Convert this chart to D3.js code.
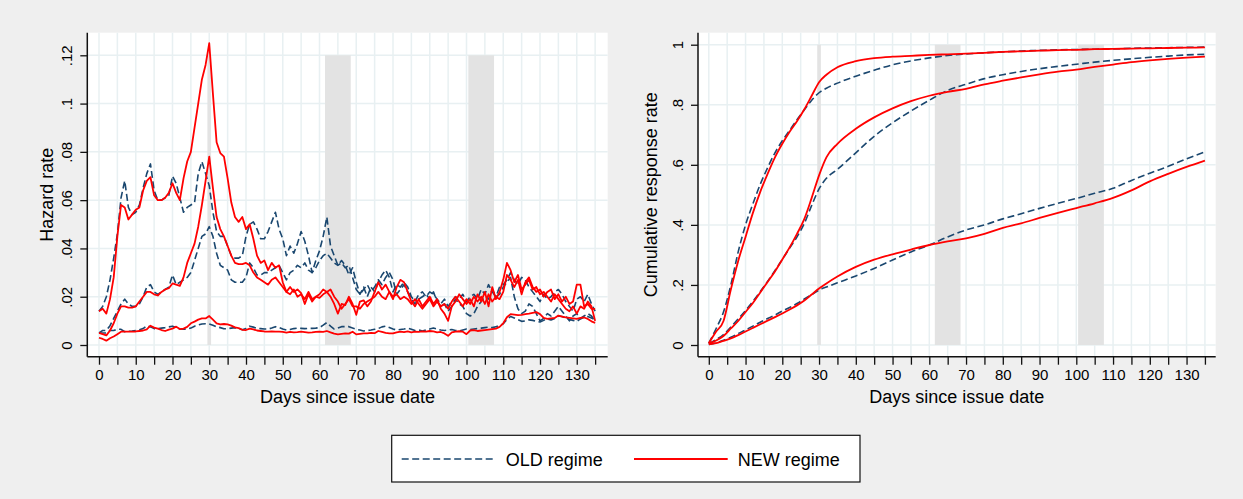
<!DOCTYPE html>
<html>
<head>
<meta charset="utf-8">
<script src="https://cdn.jsdelivr.net/npm/d3@7"></script>
<style>
body { margin: 0; background: #efefef; }
svg { display: block; font-family: "Liberation Sans", Arial, sans-serif; }
</style>
</head>
<body>
<div id="chart"></div>
<script>
var days = [0,1,2,3,4,5,6,7,8,9,10,11,12,13,14,15,16,17,18,19,20,21,22,23,24,25,26,27,28,29,
    30,31,32,33,34,35,36,37,38,39,40,41,42,43,44,45,46,47,48,49,50,51,52,53,54,55,56,57,58,59,
    60,61,62,63,64,65,66,67,68,69,70,71,72,73,74,75,76,77,78,79,80,81,82,83,84,85,86,87,88,89,
    90,91,92,93,94,95,96,97,98,99,100,101,102,103,104,105,106,107,108,109,110,111,112,113,114,
    115,116,117,118,119,120,121,122,123,124,125,126,127,128,129,130,131,132,133,134,135];

// hazard rates, OLD regime (dashed)
var hazOldHigh = [.014,.016,.020,.027,.036,.046,.061,.068,.057,.054,
    .055,.058,.065,.071,.075,.064,.060,.060,.061,.062,
    .070,.067,.061,.055,.057,.058,.059,.071,.076,.071,
    .066,.055,.047,.045,.045,.041,.037,.036,.036,.037,
    .045,.050,.051,.048,.044,.044,.047,.051,.055,.048,
    .044,.037,.041,.038,.042,.047,.043,.037,.030,.035,
    .039,.045,.053,.041,.037,.033,.035,.033,.029,.032,
    .026,.021,.024,.020,.024,.022,.026,.029,.031,.028,
    .022,.025,.024,.026,.024,.020,.018,.021,.022,.020,
    .022,.021,.019,.017,.019,.016,.018,.020,.019,.021,
    .018,.020,.021,.019,.023,.021,.025,.022,.020,.024,
    .025,.027,.030,.027,.025,.028,.027,.024,.022,.020,
    .018,.021,.019,.020,.022,.023,.021,.018,.016,.014,
    .019,.020,.018,.021,.017,.014];
var hazOldMid = [.005,.006,.006,.008,.011,.014,.017,.019,.017,.016,
    .016,.017,.020,.024,.025,.022,.021,.022,.023,.024,
    .029,.025,.026,.027,.028,.030,.035,.040,.045,.046,
    .049,.045,.038,.033,.032,.031,.027,.026,.026,.026,
    .028,.034,.032,.029,.029,.030,.030,.031,.032,.033,
    .030,.027,.030,.031,.033,.032,.034,.031,.030,.032,
    .035,.037,.038,.036,.034,.033,.034,.032,.033,.028,
    .023,.021,.023,.025,.022,.024,.027,.025,.028,.030,
    .027,.021,.023,.025,.022,.019,.017,.019,.020,.021,
    .019,.022,.018,.016,.017,.014,.016,.019,.017,.016,
    .013,.012,.013,.016,.018,.020,.019,.023,.020,.021,
    .024,.026,.028,.020,.015,.013,.014,.017,.016,.013,
    .010,.011,.013,.012,.014,.016,.014,.012,.010,.012,
    .013,.011,.012,.013,.012,.010];
var hazOldLow = [.005,.005,.005,.006,.006,.0065,.0065,.0055,.0057,.0058,
    .006,.0063,.0068,.008,.0075,.0068,.0068,.007,.0072,.0075,
    .0078,.0072,.0066,.0065,.0066,.007,.0078,.0083,.0087,.0088,
    .0087,.0082,.0075,.0072,.0067,.0068,.007,.0072,.0068,.0063,
    .0068,.0078,.0074,.0069,.0068,.0066,.0066,.007,.0076,.0072,
    .0066,.0062,.0064,.0068,.007,.0069,.0068,.0069,.0069,.007,
    .0072,.0082,.0093,.0078,.0066,.007,.0076,.0076,.0076,.007,
    .0065,.0062,.0058,.006,.0062,.0065,.0068,.0075,.0078,.0072,
    .0066,.0062,.0064,.0066,.007,.0065,.006,.0062,.0058,.0062,
    .0066,.007,.0066,.0062,.006,.0062,.0064,.006,.0058,.0062,
    .0066,.0064,.0066,.0068,.007,.0072,.0074,.0072,.0076,.008,
    .0088,.0105,.0118,.0112,.0105,.0098,.01,.0104,.0102,.0098,
    .0095,.0102,.0108,.0104,.011,.012,.0118,.0112,.0106,.0102,
    .0098,.0108,.0115,.0118,.0112,.0104];

// hazard rates, NEW regime (solid)
var hazNewHigh = [.014,.015,.013,.019,.028,.045,.058,.057,.052,.054,
    .056,.057,.064,.068,.0695,.062,.060,.060,.061,.063,
    .067,.063,.060,.069,.076,.080,.090,.100,.110,.116,
    .125,.104,.084,.0795,.078,.069,.059,.053,.051,.053,
    .048,.050,.044,.037,.034,.035,.031,.034,.032,.033,
    .026,.022,.024,.022,.023,.0215,.017,.021,.018,.020,
    .0195,.021,.022,.020,.017,.013,.017,.0165,.020,.017,
    .0125,.018,.0185,.016,.018,.022,.026,.023,.025,.022,
    .019,.024,.027,.026,.022,.018,.016,.019,.016,.018,
    .020,.017,.019,.015,.013,.010,.016,.018,.021,.019,
    .017,.019,.016,.021,.018,.022,.016,.024,.019,.022,
    .027,.034,.031,.026,.029,.023,.025,.027,.023,.024,
    .021,.022,.020,.018,.021,.019,.017,.015,.014,.016,
    .013,.016,.015,.018,.016,.010];
var hazNewMid = [.005,.0045,.004,.006,.009,.013,.016,.016,.0155,.0155,
    .016,.018,.020,.022,.022,.021,.0205,.022,.023,.0235,
    .0255,.025,.0245,.028,.034,.038,.042,.049,.058,.068,
    .078,.065,.053,.048,.045,.041,.037,.034,.0335,.0335,
    .034,.033,.030,.028,.027,.026,.025,.027,.028,.026,
    .024,.022,.021,.023,.020,.021,.019,.022,.019,.020,
    .021,.023,.022,.023,.020,.018,.015,.017,.019,.016,
    .016,.015,.017,.018,.019,.020,.022,.020,.019,.022,
    .020,.021,.019,.020,.019,.017,.019,.017,.015,.017,
    .019,.016,.018,.016,.017,.015,.018,.020,.018,.016,
    .019,.017,.020,.018,.020,.017,.021,.018,.020,.019,
    .022,.029,.027,.024,.027,.021,.026,.028,.024,.022,
    .023,.020,.022,.023,.019,.021,.018,.020,.017,.018,
    .025,.025,.016,.017,.015,.015];
var hazNewLow = [.003,.0025,.0018,.0028,.0035,.0045,.0055,.0055,.0055,.0055,
    .0056,.0058,.006,.0065,.008,.0072,.0068,.0062,.0058,.0064,
    .0068,.0076,.0066,.0068,.0075,.009,.0097,.0105,.011,.011,
    .012,.0105,.009,.0085,.0087,.0085,.008,.0073,.007,.0063,
    .0062,.0068,.0065,.006,.0058,.0056,.0055,.0056,.0055,.0055,
    .0054,.0051,.0054,.0052,.0053,.0055,.0053,.0051,.0052,.0054,
    .0055,.0054,.0058,.0052,.0047,.0044,.0046,.0048,.0047,.0055,
    .0044,.0046,.0048,.0048,.005,.0049,.0058,.0054,.005,.0048,
    .0048,.0052,.0055,.0053,.0056,.0052,.0055,.0054,.0056,.0055,
    .0058,.0056,.0052,.0054,.0048,.0038,.0052,.0055,.0057,.0055,
    .0045,.006,.0062,.0058,.006,.0062,.0064,.0066,.0068,.0075,
    .009,.0115,.0128,.0126,.0124,.0125,.0128,.013,.0133,.0136,
    .0128,.0112,.0108,.011,.0112,.0122,.0118,.0114,.0112,.011,
    .0108,.0112,.0114,.0108,.0098,.0092];

// cumulative response rates
var cumDays = [0,2,4,6,8,10,12,14,16,18,20,22,24,26,28,30,32,35,40,45,50,55,60,65,70,
    75,80,85,90,95,100,105,110,115,120,125,130,135];
var cumOldHigh = [.006,.055,.11,.2,.31,.40,.47,.535,.59,.64,.68,.715,.75,.783,.815,.84,.855,.872,
    .895,.915,.933,.946,.956,.964,.969,.973,.976,.979,.981,.983,.984,.985,.986,.988,.989,.99,.991,.992];
var cumOldMid = [.005,.018,.035,.06,.087,.115,.145,.178,.212,.248,.285,.323,.36,.405,.465,.52,.555,.585,
    .64,.695,.74,.779,.815,.848,.868,.887,.9,.911,.92,.928,.935,.942,.948,.953,.958,.962,.966,.968];
var cumOldLow = [.002,.007,.016,.026,.038,.05,.063,.076,.088,.1,.113,.125,.138,.153,.168,.183,.193,.207,
    .23,.255,.283,.31,.333,.36,.383,.4,.42,.437,.455,.472,.488,.505,.522,.548,.572,.595,.62,.643];
var cumNewHigh = [.006,.045,.08,.185,.28,.36,.44,.51,.57,.625,.67,.71,.745,.785,.83,.875,.9,.925,
    .945,.955,.96,.963,.966,.968,.97,.973,.976,.978,.98,.982,.983,.985,.986,.987,.988,.989,.99,.991];
var cumNewMid = [.005,.015,.03,.055,.08,.11,.14,.175,.21,.245,.285,.325,.37,.42,.49,.565,.625,.67,
    .72,.758,.788,.812,.83,.843,.853,.868,.88,.891,.901,.91,.917,.926,.934,.942,.948,.953,.957,.96];
var cumNewLow = [.002,.006,.014,.022,.033,.045,.057,.069,.081,.093,.105,.118,.132,.148,.168,.188,.205,.228,
    .26,.284,.302,.318,.333,.345,.355,.37,.39,.405,.423,.44,.456,.472,.49,.515,.545,.57,.593,.614];

var hazTicks = [0, .02, .04, .06, .08, .1, .12];
var hazLabels = ["0", ".02", ".04", ".06", ".08", ".1", ".12"];
var cumTicks = [0, .2, .4, .6, .8, 1];
var cumLabels = ["0", ".2", ".4", ".6", ".8", "1"];
var dayTicks = [0,5,10,15,20,25,30,35,40,45,50,55,60,65,70,75,80,85,90,95,100,105,110,115,120,125,130,135];
var bands = [[29.5, 30.5], [61.5, 68.5], [100.5, 107.5]];
var legendLabels = ["OLD regime", "NEW regime"];

var navy = "#1a476f", red = "#ff0000", grid = "#e8f0f2";

var svg = d3.select("#chart").append("svg")
    .attr("width", 1243)
    .attr("height", 499);

svg.append("rect")
    .attr("width", 1243)
    .attr("height", 499)
    .attr("fill", "#efefef");

var drawPanel = function(p) {
    var x = d3.scaleLinear().domain([0, 135]).range([p.x0, p.x0 + 135 * 3.675]);
    var y = d3.scaleLinear().domain([0, p.yMax]).range([345, 55.3 - (p.yMax == 1 ? 10.6 : 0)]);
    var top = 32.7, bottom = 356.7;
    var g = svg.append("g");

    g.append("rect")
        .attr("x", p.left)
        .attr("y", top)
        .attr("width", p.right - p.left)
        .attr("height", bottom - top)
        .attr("fill", "#fff");

    g.selectAll("line.vgrid")
        .data(dayTicks)
        .enter().append("line")
            .attr("class", "vgrid")
            .attr("x1", function(d) { return x(d) })
            .attr("x2", function(d) { return x(d) })
            .attr("y1", top)
            .attr("y2", bottom)
            .attr("stroke", grid)
            .attr("stroke-width", 1.5);

    g.selectAll("line.hgrid")
        .data(p.ticks)
        .enter().append("line")
            .attr("class", "hgrid")
            .attr("x1", p.left)
            .attr("x2", p.right)
            .attr("y1", function(d) { return y(d) })
            .attr("y2", function(d) { return y(d) })
            .attr("stroke", grid)
            .attr("stroke-width", 1.5);

    g.selectAll("rect.band")
        .data(bands)
        .enter().append("rect")
            .attr("class", "band")
            .attr("x", function(d) { return x(d[0]) })
            .attr("width", function(d) { return x(d[1]) - x(d[0]) })
            .attr("y", y(p.yMax))
            .attr("height", y(0) - y(p.yMax))
            .attr("fill", "#e3e3e3");

    var line = d3.line()
        .x(function(d) { return x(d[0]) })
        .y(function(d) { return y(d[1]) });
    if (p.smooth) line.curve(d3.curveMonotoneX);

    p.series.forEach(function(s) {
        g.append("path")
            .datum(p.xs.map(function(d, i) { return [d, s.values[i]] }))
            .attr("d", line)
            .attr("fill", "none")
            .attr("stroke", s.old ? navy : red)
            .attr("stroke-width", s.old ? 1.6 : 1.8)
            .attr("stroke-dasharray", s.old ? "7,3.5" : null)
            .attr("stroke-linejoin", "round");
    });

    var xAxis = g.append("g")
        .attr("transform", "translate(0," + bottom + ")")
        .call(d3.axisBottom(x)
            .tickValues(dayTicks)
            .tickFormat(function(d) { return d % 10 == 0 ? d : "" })
            .tickSize(8)
            .tickSizeOuter(0)
            .tickPadding(5))
        .attr("font-family", null)
        .attr("font-size", null);
    xAxis.select(".domain").remove();
    xAxis.selectAll("line").attr("stroke", "#111").attr("stroke-width", 1.3);
    xAxis.selectAll("text").attr("font-size", 15).attr("fill", "#000");
    xAxis.append("line")
        .attr("x1", p.left)
        .attr("x2", p.right)
        .attr("stroke", "#111")
        .attr("stroke-width", 1.5);

    var yAxis = g.append("g")
        .attr("transform", "translate(" + p.left + ",0)")
        .call(d3.axisLeft(y)
            .tickValues(p.ticks)
            .tickFormat(function(d, i) { return p.labels[i] })
            .tickSize(7)
            .tickSizeOuter(0))
        .attr("font-family", null)
        .attr("font-size", null);
    yAxis.select(".domain").remove();
    yAxis.selectAll("line").attr("stroke", "#111").attr("stroke-width", 1.3);
    yAxis.selectAll("text")
        .attr("font-size", 15)
        .attr("fill", "#000")
        .attr("text-anchor", "middle")
        .attr("transform", "rotate(-90)")
        .attr("x", 0)
        .attr("y", -15)
        .attr("dy", null);
    yAxis.append("line")
        .attr("y1", top)
        .attr("y2", bottom)
        .attr("stroke", "#111")
        .attr("stroke-width", 1.5);

    g.append("text")
        .attr("x", (p.left + p.right) / 2)
        .attr("y", 403)
        .attr("text-anchor", "middle")
        .attr("font-size", 18)
        .text("Days since issue date");

    g.append("text")
        .attr("transform", "translate(" + p.titleX + "," + (top + bottom) / 2 + ") rotate(-90)")
        .attr("text-anchor", "middle")
        .attr("font-size", 18)
        .text(p.title);
}

drawPanel({
    left: 87.3, right: 607.7, x0: 99,
    yMax: .12, ticks: hazTicks, labels: hazLabels,
    title: "Hazard rate", titleX: 53,
    xs: days, smooth: false,
    series: [
        { old: true, values: hazOldHigh },
        { old: true, values: hazOldMid },
        { old: true, values: hazOldLow },
        { old: false, values: hazNewHigh },
        { old: false, values: hazNewMid },
        { old: false, values: hazNewLow }
    ]
});

drawPanel({
    left: 698, right: 1215.7, x0: 708.8,
    yMax: 1, ticks: cumTicks, labels: cumLabels,
    title: "Cumulative response rate", titleX: 657,
    xs: cumDays, smooth: true,
    series: [
        { old: true, values: cumOldHigh },
        { old: true, values: cumOldMid },
        { old: true, values: cumOldLow },
        { old: false, values: cumNewHigh },
        { old: false, values: cumNewMid },
        { old: false, values: cumNewLow }
    ]
});

var legend = svg.append("g");
legend.append("rect")
    .attr("x", 391.7)
    .attr("y", 435.3)
    .attr("width", 468.3)
    .attr("height", 46.7)
    .attr("fill", "#fff")
    .attr("stroke", "#111")
    .attr("stroke-width", 1.2);

legend.selectAll("line.key")
    .data(legendLabels)
    .enter().append("line")
        .attr("class", "key")
        .attr("x1", function(d, i) { return i == 0 ? 401.7 : 634 })
        .attr("x2", function(d, i) { return i == 0 ? 495 : 727.7 })
        .attr("y1", 459)
        .attr("y2", 459)
        .attr("stroke", function(d, i) { return i == 0 ? navy : red })
        .attr("stroke-width", function(d, i) { return i == 0 ? 1.6 : 1.8 })
        .attr("stroke-dasharray", function(d, i) { return i == 0 ? "7,3.5" : null });

legend.selectAll("text")
    .data(legendLabels)
    .enter().append("text")
        .attr("x", function(d, i) { return i == 0 ? 505.7 : 737.7 })
        .attr("y", 465.5)
        .attr("font-size", 18)
        .text(function(d) { return d });
</script>
</body>
</html>
